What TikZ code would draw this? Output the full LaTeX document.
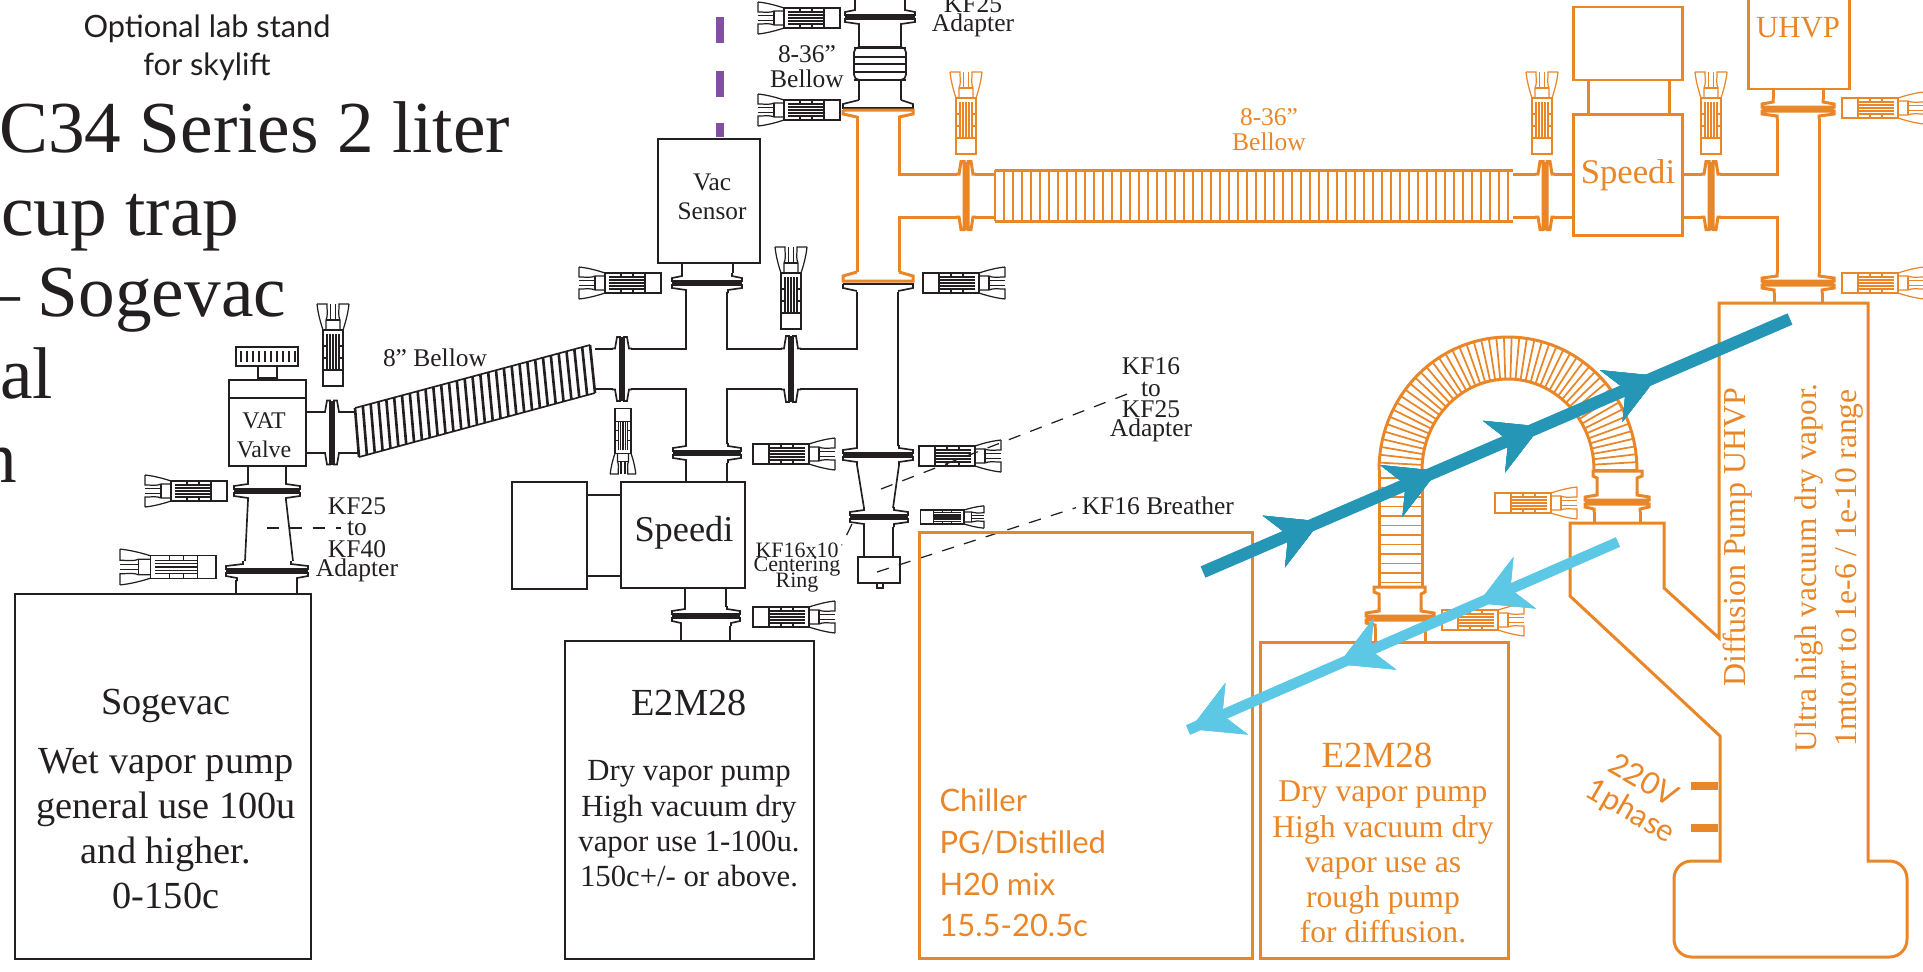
\documentclass[tikz,border=0pt]{standalone}
\usepackage{fontspec}
\setmainfont{Liberation Serif}
\newfontfamily\labelsans{Lato}
\usetikzlibrary{arrows.meta,calc,decorations.markings}
\definecolor{pumporange}{HTML}{E88628}
\definecolor{blackline}{HTML}{231F20}
\definecolor{teal}{HTML}{2596B5}
\definecolor{skyblue}{HTML}{5DC8E6}
\definecolor{purpledash}{HTML}{8550A3}
\tikzset{
orangepart/.style={color=pumporange,line width=1.7pt},
leader/.style={dashed,dash pattern=on 7pt off 6pt,line width=0.7pt,color=blackline,shorten >=3pt},
smalltxt/.style={font=\fontsize{14.5}{16}\selectfont,text=blackline,inner sep=0pt},
pumptxt/.style={font=\fontsize{21.8}{25.6}\selectfont,text=blackline,align=center,inner sep=0pt},
pics/clamp/.style={code={
\begin{scope}[line width=0.7pt]
\draw (26,-10) rectangle (82,10);
\draw (66,-10)--(66,10);
\draw (42,-10)--(42,-6) (54,-6)--(54,-10) (42,10)--(42,6) (54,6)--(54,10);
\foreach \s in {-6,-3,0,3,6} \draw (30,\s)--(66,\s);
\draw (0,-16)..controls (10,-15) and (20,-12)..(26,-10);
\draw (0,16)..controls (10,15) and (20,12)..(26,10);
\draw (0,-16)--(0,-6)..controls (8,-6) and (12,-5)..(16,-7)--(26,-7);
\draw (0,16)--(0,6)..controls (8,6) and (12,5)..(16,7)--(26,7);
\draw (16,-7)--(16,7) (0,-2.5)--(16,-2.5) (0,2.5)--(16,2.5);
\end{scope}
}},
pics/kfjoint/.style n args={3}{code={
\draw (-#2,-10)--(-#2,-7)--(-#1,-5)--(-#1,-2)--(#1,-2)--(#1,-5)--(#2,-7)--(#2,-10);
\draw (-#3,10)--(-#3,7)--(-#1,5)--(-#1,2)--(#1,2)--(#1,5)--(#3,7)--(#3,10);
\draw[line width=1pt] (-#1,0)--(#1,0);
}},
flowline/.style={postaction={decorate},decoration={markings,
mark=at position #1 with {\arrow{Stealth[length=1cm,width=1.1cm,inset=0.3cm]}}}},
}
\begin{document}
\begin{tikzpicture}[x=0.02cm,y=-0.02cm,line width=0.95pt,color=blackline]
\useasboundingbox (0,0) rectangle (1923,971);
\clip (0,0) rectangle (1923,971);
% titles cut by the page edge
\node[anchor=base east,inner sep=0pt,font=\fontsize{41.7}{44}\selectfont] (titlea) at (511,152) {C34 Series 2 liter};
\node[anchor=base east,inner sep=0pt,font=\fontsize{41.7}{44}\selectfont] (titleb) at (240,235) {cup trap};
\node[anchor=base east,inner sep=0pt,font=\fontsize{41.7}{44}\selectfont] (titlec) at (287,316) {-- Sogevac};
\node[anchor=base east,inner sep=0pt,font=\fontsize{41.7}{44}\selectfont] (titled) at (54,398) {al};
\node[anchor=base east,inner sep=0pt,font=\fontsize{41.7}{44}\selectfont] (titlee) at (18,482) {n};
\node[inner sep=0pt,align=center,font=\labelsans\fontsize{17.5}{21.6}\selectfont] (stand) at (207,48) {Optional lab stand\\for skylift};
% sogevac side
\draw (15,594) rectangle (311,959);
\node[pumptxt] (sogename) at (166,706) {Sogevac};
\node[pumptxt,anchor=north] (sogebody) at (166,748) {Wet vapor pump\\general use 100u\\and higher.\\0-150c};
\draw (236,580)--(236,594) (297,580)--(297,594);
\pic at (267,571) {kfjoint={41}{24}{30}};
\draw (248,500)--(245,561) (286,500)--(293,561);
\pic at (267,491) {kfjoint={33}{19}{19}};
\draw (229,380) rectangle (306,466) (229,398)--(306,398);
\draw (248,466)--(248,481) (286,466)--(286,481);
\draw (236,347) rectangle (298,366) (258,366) rectangle (277,378);
\foreach \x in {241,247,...,295} \draw[line width=0.6pt] (\x,351)--(\x,362);
\node[inner sep=0pt,align=center,font=\fontsize{13.6}{16.7}\selectfont] (vat) at (264,435) {VAT\\Valve};
\draw (306,412)--(323,412) (341,412)--(356,412) (306,453)--(323,453) (341,453)--(358,453);
\pic[rotate=90] at (332,432.5) {kfjoint={32}{20.5}{20.5}};
\pic at (145,491) {clamp};
\pic[xscale=1.17,yscale=1.12] at (120,567) {clamp};
\pic[rotate=-90] at (333,304) {clamp};
% diagonal bellow
\coordinate (bellowtl) at (355,408);
\coordinate (bellowbl) at (359,457);
\coordinate (bellowtr) at (590,345);
\coordinate (bellowbr) at (595,393);
\foreach \i in {0,...,30} \draw[line width=1.5pt] ($(bellowtl)!\i/30!(bellowtr)$)--($(bellowbl)!\i/30!(bellowbr)$);
\draw (bellowtl)--(bellowtr) (bellowbl)--(bellowbr);
\node[smalltxt] (bellowname) at (435,358) {8” Bellow};
\node[smalltxt] (kftop) at (357,506) {KF25};
\node[smalltxt] (kfto) at (357,528) {to};
\node[smalltxt] (kfbot) at (357,549) {KF40};
\node[smalltxt] (kfadapt) at (357,570) {Adapter};
\coordinate (kfdash) at (267,528);
\draw[leader] (kfdash)--(kfto.west);
% black cross
\draw (595,349)--(613,349) (631,349)--(686,349)--(686,292) (595,389)--(613,389) (631,389)--(686,389)--(686,444);
\pic[rotate=90] at (622,369) {kfjoint={32}{20.5}{20.5}};
\draw (727,292)--(727,349)--(782,349) (800,349)--(857,349)--(857,292);
\draw (727,444)--(727,389)--(782,389) (800,389)--(857,389)--(857,446) (898,292)--(898,446);
\pic[rotate=90] at (791,369) {kfjoint={33}{20.5}{20.5}};
\pic at (707,283) {kfjoint={35}{25}{21}};
\draw (658,139) rectangle (760,263) (682,263)--(682,273) (733,263)--(733,273);
\node[inner sep=0pt,align=center,font=\fontsize{14.4}{16.5}\selectfont] (vacsensor) at (712,197) {Vac\\Sensor};
\foreach \yy/\ye in {17/43,71/97,123/137} \draw[purpledash,line width=4.6pt] (720,\yy)--(720,\ye);
\pic at (707,453) {kfjoint={34}{21}{21}};
\draw (686,463)--(686,482) (727,463)--(727,482);
\draw (512,482) rectangle (587,589) (587,495) rectangle (621,576) (621,482) rectangle (745,588);
\node[inner sep=0pt,font=\fontsize{20.7}{22}\selectfont] (speedia) at (684,533) {Speedi};
\draw (685,588)--(685,607) (726,588)--(726,607);
\pic at (706,616) {kfjoint={34}{21}{25}};
\draw (681,626)--(681,641) (730,626)--(730,641);
\draw (565,641) rectangle (814,959);
\node[pumptxt] (e2name) at (689,703) {E2M28};
\node[pumptxt,anchor=north,font=\fontsize{17.5}{20}\selectfont] (e2body) at (689,760) {Dry vapor pump\\High vacuum dry\\vapor use 1-100u.\\150c+/- or above.};
% right column
\pic at (878,455) {kfjoint={35}{21}{21}};
\draw (857,465)--(864,508) (899,465)--(893,508);
\pic at (879,517) {kfjoint={29}{15}{15}};
\draw (864,527)--(864,557) (893,527)--(893,557);
\draw (858,557) rectangle (900,583) (877,583) rectangle (883,588);
\draw (843,284)--(913,284)--(913,288)--(898,291) (843,284)--(843,288)--(857,291);
\pic at (880,17) {kfjoint={35}{25}{21}};
\draw (855,0)--(855,7) (905,0)--(905,7) (859,27)--(859,47) (901,27)--(901,47) (859,80)--(859,100) (901,80)--(901,100);
\draw[rounded corners=3pt] (854,47) rectangle (906,80);
\foreach \yy in {48,57,64,72,80} \draw[line width=1.6pt] (854,\yy)--(906,\yy);
\draw (859,100)--(843,104)--(843,108)--(913,108)--(913,104)--(901,100);
\node[smalltxt] (bellowa) at (807,54) {8-36”};
\node[smalltxt] (bellowb) at (807,79) {Bellow};
\node[smalltxt] (adaptkf) at (973,4) {KF25};
\node[smalltxt] (adaptname) at (973,25) {Adapter};
\foreach \yy in {18,110} \pic at (758,\yy) {clamp};
\pic at (579,283) {clamp};
\pic[rotate=180] at (1005,283) {clamp};
\pic[rotate=-90] at (791,247) {clamp};
\pic[rotate=90,xscale=0.8,yscale=0.8] at (623,474) {clamp};
\pic[rotate=180] at (835,454) {clamp};
\pic[rotate=180] at (1001,456) {clamp};
\pic[rotate=180] at (835,617) {clamp};
\pic[rotate=180,xscale=0.77,yscale=0.7] at (984,517) {clamp};
\node[smalltxt] (kfsixa) at (1151,366) {KF16};
\node[smalltxt] (kfsixb) at (1151,389) {to};
\node[smalltxt] (kfsixc) at (1151,409) {KF25};
\node[smalltxt] (kfsixd) at (1151,430) {Adapter};
\node[smalltxt,anchor=west] (breather) at (1081,506) {KF16 Breather};
\node[smalltxt,font=\fontsize{12.5}{14}\selectfont] (ringa) at (797,550) {KF16x10};
\node[smalltxt,font=\fontsize{12.5}{14}\selectfont] (ringb) at (797,567) {Centering};
\node[smalltxt,font=\fontsize{12.5}{14}\selectfont] (ringc) at (797,583) {Ring};
\coordinate (adaptdash) at (881,489);
\coordinate (breatherdash) at (877,572);
\coordinate (ringdash) at (852,524);
\draw[leader] (adaptdash)--(kfsixb.west);
\draw[leader] (breatherdash)--(breather.west);
\draw[leader] (ringdash)--(ringa.east);
% orange line
\begin{scope}[orangepart]
\draw (857,116)--(857,272) (899,116)--(899,174)--(957,174) (975,174)--(995,174);
\draw (899,272)--(899,217)--(957,217) (975,217)--(995,217);
\draw (843,110)--(913,110)--(913,114)--(899,117) (843,110)--(843,114)--(857,117);
\draw (857,272)--(843,276)--(843,281)--(913,281)--(913,276)--(899,272);
\pic[rotate=90] at (966,195.5) {kfjoint={34}{21.5}{21.5}};
\foreach \x in {995,1004,...,1513} \draw[line width=1.4pt] (\x,170)--(\x,221);
\draw (995,170)--(1513,170) (995,221)--(1513,221);
\node[smalltxt,text=pumporange] (orbellowa) at (1269,117) {8-36”};
\node[smalltxt,text=pumporange] (orbellowb) at (1269,142) {Bellow};
\draw (1513,174)--(1536,174) (1554,174)--(1573,174) (1513,217)--(1536,217) (1554,217)--(1573,217);
\pic[rotate=90] at (1545,195.5) {kfjoint={34}{21.5}{21.5}};
\draw (1573,114) rectangle (1682,235) (1588,80) rectangle (1669,114) (1573,7) rectangle (1682,80);
\node[inner sep=0pt,font=\fontsize{19.7}{21}\selectfont] (speedib) at (1628,175) {Speedi};
\draw (1682,174)--(1702,174) (1720,174)--(1777,174)--(1777,119) (1682,217)--(1702,217) (1720,217)--(1777,217)--(1777,273);
\pic[rotate=90] at (1711,195.5) {kfjoint={34}{21.5}{21.5}};
\draw (1819,119)--(1819,273);
\pic at (1798,109) {kfjoint={36}{25}{21}};
\draw (1773,89)--(1773,99) (1823,89)--(1823,99);
\draw (1748,-5) rectangle (1849,89);
\node[inner sep=0pt,font=\fontsize{17.5}{19}\selectfont] (uhvp) at (1798,28) {UHVP};
\pic at (1798,283) {kfjoint={36}{21}{24}};
\draw (1774,293)--(1774,303) (1822,293)--(1822,303);
\draw (1719,638)--(1719,303)--(1868,303)--(1868,861)[rounded corners=10pt]--(1907,861)--(1907,957)--(1674,957)--(1674,861)[sharp corners]--(1720,861)--(1720,736)--(1570,596)--(1570,523)--(1664,523)--(1664,588)--cycle;
\draw[line width=4.6pt] (1691,786)--(1718,786) (1691,828)--(1718,828);
\node[inner sep=0pt,rotate=-30,font=\labelsans\fontsize{17.5}{18}\selectfont] (volts) at (1644,780) {220V};
\node[inner sep=0pt,rotate=-30,font=\labelsans\fontsize{17.5}{18}\selectfont] (phase) at (1630,812) {1phase};
\node[inner sep=0pt,rotate=90,font=\fontsize{18.2}{20}\selectfont] (diffname) at (1738,537) {Diffusion Pump UHVP};
\node[inner sep=0pt,rotate=90,font=\fontsize{17.8}{20}\selectfont] (ultraa) at (1809,568) {Ultra high vacuum dry vapor.};
\node[inner sep=0pt,rotate=90,font=\fontsize{18}{20}\selectfont] (ultrab) at (1849,568) {1mtorr to 1e-6 / 1e-10 range};
\draw plot[domain=0:180,samples=70] ({1508+129*cos(\x)},{470-133*sin(\x)});
\draw plot[domain=0:180,samples=70] ({1508+86*cos(\x)},{470-91*sin(\x)});
\draw (1379,470)--(1379,587) (1422,470)--(1422,587);
\foreach \t in {0,3.4,...,180} \draw[line width=1pt] ({1508+129*cos(\t)},{470-133*sin(\t)})--({1508+86*cos(\t)},{470-91*sin(\t)});
\foreach \yy in {478,487.5,...,587} \draw[line width=1pt] (1379,\yy)--(1422,\yy);
\draw (1597,493)--(1597,478)--(1593,476)--(1593,471)--(1642,471)--(1642,476)--(1637,478)--(1637,493);
\draw (1379,609)--(1379,594)--(1374,592)--(1374,587)--(1425,587)--(1425,592)--(1421,594)--(1421,609);
\pic at (1617,502) {kfjoint={32}{20}{23}};
\draw (1594,512)--(1594,523) (1640,512)--(1640,523);
\pic at (1400,618) {kfjoint={34}{21}{25}};
\draw (1375,628)--(1375,642) (1425,628)--(1425,642);
\draw (919,532) rectangle (1252,958) (1260,642) rectangle (1508,958);
\node[inner sep=0pt,anchor=west,align=left,text=pumporange,font=\labelsans\fontsize{17.6}{23.7}\selectfont] (chiller) at (938,863) {Chiller\\PG/Distilled\\H20 mix\\15.5-20.5c};
\node[inner sep=0pt,font=\fontsize{21}{23}\selectfont] (e2orange) at (1377,755) {E2M28};
\node[inner sep=0pt,align=center,font=\fontsize{18}{20}\selectfont] (e2orbody) at (1383,862) {Dry vapor pump\\High vacuum dry\\vapor use as\\rough pump\\for diffusion.};
\foreach \x in {966,1542,1711} \pic[rotate=-90] at (\x,72) {clamp};
\pic[rotate=180] at (1924,108) {clamp};
\pic[rotate=180] at (1924,283) {clamp};
\pic[rotate=180] at (1577,503) {clamp};
\pic[rotate=180] at (1524,620) {clamp};
\end{scope}
% flow arrows
\coordinate (tealstart) at (1203,572);
\coordinate (tealend) at (1790,319);
\coordinate (skystart) at (1618,542);
\coordinate (skyend) at (1188,730);
\draw[teal,line width=7pt,flowline=0.2,flowline=0.4,flowline=0.575,flowline=0.775] (tealstart)--(tealend);
\draw[skyblue,line width=6pt,flowline=0.325,flowline=0.65,flowline=0.995] (skystart)--(skyend);
\end{tikzpicture}
\end{document}
